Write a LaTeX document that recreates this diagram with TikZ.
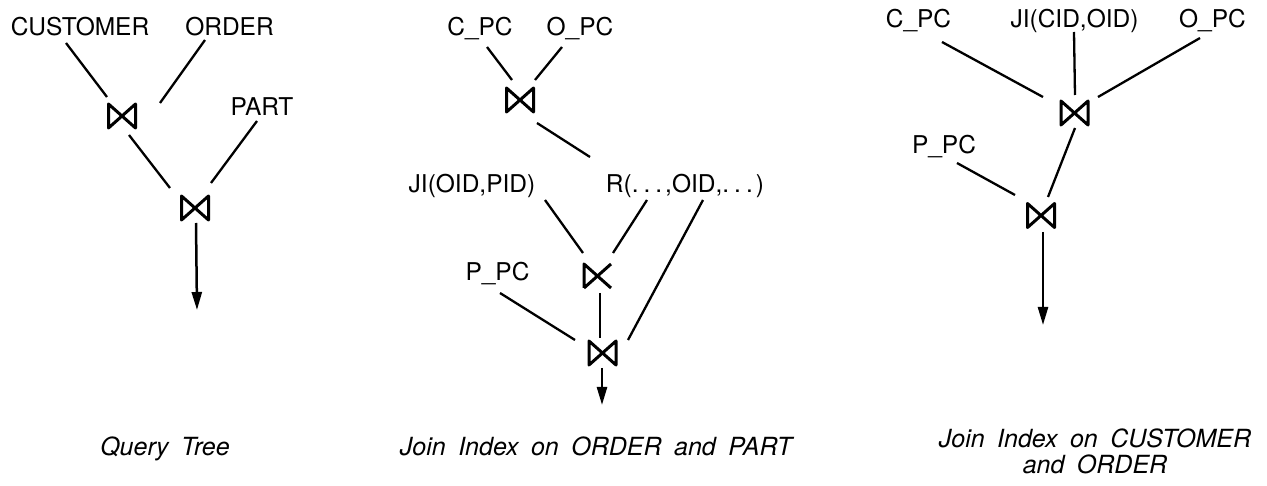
\documentclass[tikz,border=0pt]{standalone}
\usepackage{fontspec}
\setmainfont{TeX Gyre Heros}
\newfontfamily\capfont[WordSpace=1.8]{TeX Gyre Heros}
\usetikzlibrary{arrows.meta}

\newcommand{\spdots}{.\kern5pt.\kern5pt.\kern3pt}

\tikzset{
  rel/.style={inner sep=0pt, text height=17.5pt, text depth=0pt, font=\fontsize{24.5}{29}\selectfont},
  capt/.style={inner sep=0pt, align=center, font=\capfont\itshape\fontsize{25}{26}\selectfont},
  conn/.style={line width=2.3pt},
  flow/.style={line width=2.5pt, -{Triangle[width=10pt,length=18pt]}},
  bowtie/.style={minimum width=30pt, minimum height=27pt, inner sep=0pt,
    path picture={\draw[line width=3pt, line join=round]
      ([shift={(1.5pt,-1.5pt)}]path picture bounding box.north west)
      -- ([shift={(1.5pt,1.5pt)}]path picture bounding box.south west)
      -- ([shift={(-1.5pt,-1.5pt)}]path picture bounding box.north east)
      -- ([shift={(-1.5pt,1.5pt)}]path picture bounding box.south east)
      -- cycle;}},
  semijoin/.style={minimum width=30pt, minimum height=27pt, inner sep=0pt,
    path picture={\draw[line width=3pt, line join=round]
      ([shift={(1.5pt,1.5pt)}]path picture bounding box.south west)
      -- ([shift={(1.5pt,-1.5pt)}]path picture bounding box.north west)
      -- ([shift={(-1.5pt,1.5pt)}]path picture bounding box.south east)
      ([shift={(1.5pt,1.5pt)}]path picture bounding box.south west)
      -- ([shift={(-1.5pt,-1.5pt)}]path picture bounding box.north east);}}
}

\begin{document}
\begin{tikzpicture}[x=1pt, y=1pt]
\useasboundingbox (0,0) rectangle (1267,-486);

% query tree
\node[rel] (cust) at (80,-26.5) {CUSTOMER};
\node[rel] (ord) at (229.5,-26.5) {ORDER};
\node[rel] (part) at (262,-106.5) {PART};
\node[bowtie] (j1) at (122,-116) {};
\node[bowtie] (j2) at (195,-208) {};
\coordinate (qout) at (197,-310);
\draw[conn] ([shift={(-14,-16.5)}]cust.center) -- ([shift={(-15,19)}]j1.center);
\draw[conn] ([shift={(-24.5,-13.5)}]ord.center) -- ([shift={(38,13)}]j1.center);
\draw[conn] ([shift={(7,-19)}]j1.center) -- ([shift={(-25,20)}]j2.center);
\draw[conn] ([shift={(-5,-14.5)}]part.center) -- ([shift={(16,25)}]j2.center);
\draw[flow] ([shift={(1,-15)}]j2.center) -- (qout);
\node[capt, anchor=base] (qcap) at (165,-455) {Query Tree};

% join index on ORDER and PART
\node[rel] (cpc) at (480,-26.5) {C\_PC};
\node[rel] (opc) at (580,-26.5) {O\_PC};
\node[bowtie] (m1) at (520,-100) {};
\node[rel] (jipid) at (472,-183.5) {JI(OID,PID)};
\node[rel] (rr) at (685,-183.5) {R(\spdots,OID,\spdots)};
\node[semijoin] (m2) at (597.5,-276) {};
\node[rel] (ppc) at (497.5,-271.5) {P\_PC};
\node[bowtie] (m3) at (602.5,-353) {};
\coordinate (mout) at (602,-405);
\draw[conn] ([shift={(7,-20.5)}]cpc.center) -- ([shift={(-8,20)}]m1.center);
\draw[conn] ([shift={(-18,-20.5)}]opc.center) -- ([shift={(15,20)}]m1.center);
\draw[conn] ([shift={(17,-23)}]m1.center) -- ([shift={(-95,26.5)}]rr.center);
\draw[conn] ([shift={(73,-16.5)}]jipid.center) -- ([shift={(-14.5,23)}]m2.center);
\draw[conn] ([shift={(-38,-16.5)}]rr.center) -- ([shift={(15.5,23)}]m2.center);
\draw[conn] ([shift={(18,-16.5)}]rr.center) -- ([shift={(25.5,13)}]m3.center);
\draw[conn] ([shift={(2.5,-21.5)}]ppc.center) -- ([shift={(-27.5,13)}]m3.center);
\draw[conn] ([shift={(2.5,-17)}]m2.center) -- ([shift={(-2.5,15)}]m3.center);
\draw[flow] ([shift={(-0.5,-15)}]m3.center) -- (mout);
\node[capt, anchor=base] (mcap) at (596,-455) {Join Index on ORDER and PART};

% join index on CUSTOMER and ORDER
\node[rel] (rcpc) at (918.5,-18.5) {C\_PC};
\node[rel] (rji) at (1074.5,-18.5) {JI(CID,OID)};
\node[rel] (ropc) at (1212.5,-18.5) {O\_PC};
\node[bowtie] (r1) at (1074.5,-113) {};
\node[rel] (rppc) at (944,-145) {P\_PC};
\node[bowtie] (r2) at (1041,-215.5) {};
\coordinate (rout) at (1043,-325);
\draw[conn] ([shift={(23.5,-23.5)}]rcpc.center) -- ([shift={(-31.5,16)}]r1.center);
\draw[conn] ([shift={(-0.5,-13.5)}]rji.center) -- ([shift={(0.5,18)}]r1.center);
\draw[conn] ([shift={(-12.5,-19.5)}]ropc.center) -- ([shift={(23.5,16)}]r1.center);
\draw[conn] ([shift={(0.5,-15)}]r1.center) -- ([shift={(7,18.5)}]r2.center);
\draw[conn] ([shift={(13,-18)}]rppc.center) -- ([shift={(-26,20.5)}]r2.center);
\draw[flow] ([shift={(2,-16.5)}]r2.center) -- (rout);
\node[capt] (rcap) at (1095,-451) {Join Index on CUSTOMER\\and ORDER};
\end{tikzpicture}
\end{document}
